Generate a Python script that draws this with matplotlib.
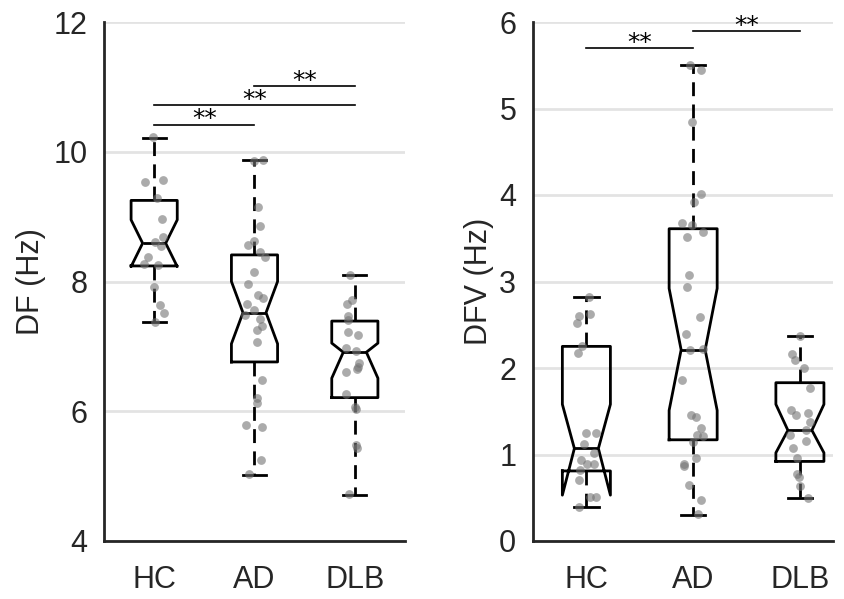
import numpy as np
import matplotlib
matplotlib.use("Agg")
import matplotlib.pyplot as plt

plt.rcParams["font.family"] = ["Liberation Sans", "DejaVu Sans"]

groups = ["HC", "AD", "DLB"]

# DF (Hz) box statistics per group
df_whislo = [7.37, 5.02, 4.71]
df_q1 = [8.24, 6.76, 6.21]
df_cilo = [8.23, 7.04, 6.51]
df_med = [8.59, 7.52, 6.91]
df_cihi = [8.95, 8.00, 7.05]
df_q3 = [9.25, 8.41, 7.39]
df_whishi = [10.21, 9.87, 8.10]

# DFV (Hz) box statistics per group
dfv_whislo = [0.39, 0.30, 0.50]
dfv_q1 = [0.81, 1.17, 0.92]
dfv_cilo = [0.53, 1.51, 1.02]
dfv_med = [1.07, 2.21, 1.28]
dfv_cihi = [1.58, 2.92, 1.58]
dfv_q3 = [2.25, 3.61, 1.83]
dfv_whishi = [2.82, 5.50, 2.37]

# individual subjects
df_hc = [10.22, 9.54, 9.56, 9.28, 8.97, 8.61, 8.68, 8.55, 8.37, 8.27, 8.25, 7.92, 7.64, 7.51, 7.37]
df_ad = [9.86, 9.87, 9.15, 8.85, 8.57, 8.62, 8.46, 8.37, 8.15, 7.96, 7.79, 7.74, 7.66,
         7.48, 7.56, 7.42, 7.31, 7.25, 7.06, 6.48, 6.21, 6.12, 5.79, 5.75, 5.25, 5.03]
df_dlb = [8.10, 7.72, 7.65, 7.47, 7.41, 7.22, 7.17, 6.97, 6.93, 6.75, 6.68, 6.65, 6.60,
          6.26, 6.07, 6.04, 5.48, 5.43, 4.72]

dfv_hc = [2.82, 2.60, 2.63, 2.52, 2.25, 2.17, 1.25, 1.25, 1.12, 1.02, 0.94, 0.89, 0.89,
          0.82, 0.70, 0.51, 0.51, 0.39]
dfv_ad = [5.50, 5.45, 4.84, 4.01, 3.92, 3.68, 3.65, 3.57, 3.52, 3.08, 2.94, 2.59, 2.39, 2.21,
          2.22, 1.86, 1.46, 1.43, 1.31, 1.23, 1.21, 1.15, 0.96, 0.89, 0.87, 0.65, 0.47, 0.31]
dfv_dlb = [2.37, 2.16, 2.09, 2.00, 1.77, 1.51, 1.46, 1.48, 1.37, 1.28, 1.23, 1.16, 1.07,
           0.96, 0.78, 0.74, 0.64, 0.50]

# horizontal jitter of the subject dots
jit_df_hc = [-0.01, -0.09, 0.09, 0.03, 0.08, 0.01, 0.09, 0.07, -0.06, -0.10, 0.04, 0.00, 0.06, 0.10, 0.01]
jit_df_ad = [0.00, 0.08, 0.03, 0.05, -0.06, 0.00, 0.05, 0.10, 0.00, -0.06, 0.03, 0.08, -0.07,
             -0.09, 0.00, 0.05, 0.07, 0.02, 0.02, 0.07, 0.02, 0.02, -0.08, 0.07, 0.06, -0.05]
jit_df_dlb = [-0.05, -0.03, -0.08, -0.07, -0.07, -0.07, 0.03, -0.09, 0.01, 0.04, 0.03, 0.02,
              -0.09, -0.09, 0.00, 0.01, 0.01, 0.02, -0.06]
jit_dfv_hc = [0.02, -0.07, 0.03, -0.09, -0.04, -0.08, 0.00, 0.09, -0.02, 0.07, -0.05, 0.01,
              0.07, -0.06, -0.07, 0.03, 0.09, -0.07]
jit_dfv_ad = [-0.03, 0.07, -0.01, 0.07, 0.01, -0.10, -0.01, 0.09, -0.06, -0.04, -0.06, 0.06,
              -0.07, -0.03, 0.09, -0.10, -0.02, 0.03, 0.07, 0.04, 0.09, 0.00, 0.03, -0.09,
              -0.09, -0.04, 0.07, 0.05]
jit_dfv_dlb = [0.00, -0.07, -0.05, 0.04, 0.09, -0.08, -0.04, 0.08, 0.09, 0.06, -0.09, 0.06,
               -0.06, -0.03, -0.03, -0.01, 0.00, 0.08]

# pairwise comparisons: (group a, group b, bar height)
df_sig = [(1, 2, 10.42), (1, 3, 10.72), (2, 3, 11.02)]
dfv_sig = [(1, 2, 5.70), (2, 3, 5.90)]


def stats_list(whislo, q1, cilo, med, cihi, q3, whishi):
    out = []
    for i in range(len(med)):
        out.append(dict(whislo=whislo[i], q1=q1[i], cilo=cilo[i], med=med[i],
                        cihi=cihi[i], q3=q3[i], whishi=whishi[i], fliers=[]))
    return out


def panel(ax, stats, points, jitters, sig, ylim, yticks, ylabel, xlim, width, labelpad):
    line = dict(color="black", linewidth=2.0)
    ax.bxp(stats, positions=[1, 2, 3], widths=width, capwidths=0.23,
           shownotches=True, showfliers=False,
           boxprops=line, medianprops=line, capprops=line,
           whiskerprops=dict(color="black", linewidth=2.0, linestyle=(0, (5, 3))))
    for i, (vals, jit) in enumerate(zip(points, jitters)):
        ax.scatter(np.array(jit) + i + 1, vals, s=40, color="0.45", alpha=0.6,
                   linewidths=0, zorder=5)
    for a, b, h in sig:
        ax.plot([a, b], [h, h], color="black", linewidth=1.2, clip_on=False)
        ax.annotate("**", xy=((a + b) / 2, h), xytext=(0, -5), textcoords="offset points",
                    ha="center", va="bottom", fontsize=18, family="DejaVu Sans",
                    annotation_clip=False)
    ax.set_xlim(*xlim)
    ax.set_ylim(*ylim)
    ax.set_yticks(yticks)
    ax.set_xticks([1, 2, 3])
    ax.set_xticklabels(groups)
    ax.set_ylabel(ylabel, fontsize=22, color="#262626", labelpad=labelpad)
    ax.yaxis.grid(True, color="#e3e3e3", linewidth=2.0)
    ax.xaxis.grid(False)
    ax.set_axisbelow(True)
    for s in ["top", "right"]:
        ax.spines[s].set_visible(False)
    for s in ["left", "bottom"]:
        ax.spines[s].set_color("#262626")
        ax.spines[s].set_linewidth(2.0)
    ax.tick_params(axis="both", length=0, labelsize=22, colors="#262626")
    ax.tick_params(axis="x", pad=17)
    ax.tick_params(axis="y", pad=12)


fig = plt.figure(figsize=(8.45, 5.99), dpi=100)
ax1 = fig.add_axes([104 / 845, 58 / 599, 301 / 845, 519 / 599])
ax2 = fig.add_axes([533 / 845, 58 / 599, 300 / 845, 519 / 599])

panel(ax1,
      stats_list(df_whislo, df_q1, df_cilo, df_med, df_cihi, df_q3, df_whishi),
      [df_hc, df_ad, df_dlb], [jit_df_hc, jit_df_ad, jit_df_dlb], df_sig,
      (4, 12), [4, 6, 8, 10, 12], "DF (Hz)", (0.5, 3.5), 0.46, 5)
panel(ax2,
      stats_list(dfv_whislo, dfv_q1, dfv_cilo, dfv_med, dfv_cihi, dfv_q3, dfv_whishi),
      [dfv_hc, dfv_ad, dfv_dlb], [jit_dfv_hc, jit_dfv_ad, jit_dfv_dlb], dfv_sig,
      (0, 6), [0, 1, 2, 3, 4, 5, 6], "DFV (Hz)", (0.5, 3.31), 0.45, 4)

fig.savefig("out.png", dpi=100)
